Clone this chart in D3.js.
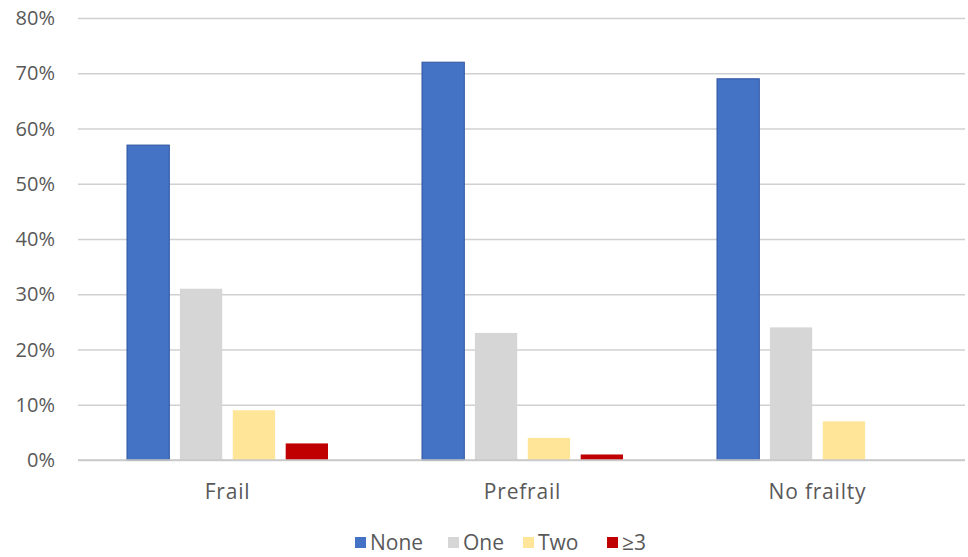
<!DOCTYPE html>
<html>
<head>
<meta charset="utf-8">
<script src="https://cdn.jsdelivr.net/npm/d3@7"></script>
<style>
  body { margin: 0; background: #fff; }
  svg { display: block; font-family: "Open Sans", "Noto Sans", sans-serif; }
</style>
</head>
<body>
<svg width="968" height="557"></svg>
<script>
const W = 968, H = 557;

// data
var categories = ['Frail', 'Prefrail', 'No frailty'];
var seriesNames = ['None', 'One', 'Two', '\u22653'];
var noneVals = [57, 72, 69];
var oneVals = [31, 23, 24];
var twoVals = [9, 4, 7];
var threeVals = [3, 1, 0];
var yTicks = [0, 10, 20, 30, 40, 50, 60, 70, 80];
var colors = ['#4472C4', '#D6D6D6', '#FFE597', '#C00000'];

var svg = d3.select('svg');

var x0 = d3.scaleBand().domain(categories).range([80, 965]);
var x1 = d3.scaleBand().domain(seriesNames).range([47, 248]).paddingInner(0.2);
var y = d3.scaleLinear().domain([0, 80]).range([460, 18]);

// gridlines
svg.append('g')
  .attr('transform', 'translate(78,0)')
  .call(d3.axisLeft(y).tickValues(yTicks).tickSize(-887).tickFormat(''))
  .call(g => g.select('.domain').remove())
  .call(g => g.selectAll('line').attr('stroke', '#D0D0D0').attr('stroke-width', 1.3));

// y labels
svg.append('g').selectAll('text').data(yTicks).enter()
  .append('text')
  .attr('x', 55)
  .attr('y', d => y(d))
  .attr('dy', '0.35em')
  .attr('text-anchor', 'end')
  .attr('fill', '#595959')
  .style('font-size', '20px')
  .text(d => d + '%');

var table = categories.map((c, i) => ({
  cat: c,
  vals: [noneVals[i], oneVals[i], twoVals[i], threeVals[i]]
}));

var groups = svg.selectAll('g.grp').data(table).enter()
  .append('g').attr('class', 'grp')
  .attr('transform', d => 'translate(' + x0(d.cat) + ',0)');

groups.selectAll('rect')
  .data(d => d.vals.map((v, j) => ({ s: seriesNames[j], v: v, c: colors[j] })))
  .enter().filter(d => d.v > 0)
  .append('rect')
  .attr('x', d => x1(d.s))
  .attr('y', d => y(d.v))
  .attr('width', x1.bandwidth())
  .attr('height', d => y(0) - y(d.v))
  .attr('fill', d => d.c)
  .attr('stroke', (d, j) => d.s === 'None' ? '#2F55A0' : 'none')
  .attr('stroke-width', 1);

// x baseline
svg.append('line')
  .attr('x1', 78).attr('x2', 965)
  .attr('y1', y(0)).attr('y2', y(0))
  .attr('stroke', '#C8C8C8').attr('stroke-width', 1.3);

// category labels
svg.append('g').selectAll('text').data(categories).enter()
  .append('text')
  .attr('x', d => x0(d) + x0.bandwidth() / 2)
  .attr('y', 499)
  .attr('text-anchor', 'middle')
  .attr('fill', '#595959')
  .style('font-size', '21px')
  .style('letter-spacing', '0.8px')
  .text(d => d);

// legend
var legX = [355, 448, 523, 607];
var leg = svg.append('g').selectAll('g').data(seriesNames).enter()
  .append('g')
  .attr('transform', (d, i) => 'translate(' + legX[i] + ',537)');
leg.append('rect')
  .attr('width', 11).attr('height', 11)
  .attr('fill', (d, i) => colors[i]);
leg.append('text')
  .attr('x', (d, i) => i === 3 ? 15 : 15)
  .attr('y', 13)
  .attr('fill', '#595959')
  .style('font-size', '21px')
  .text(d => d);
</script>
</body>
</html>
